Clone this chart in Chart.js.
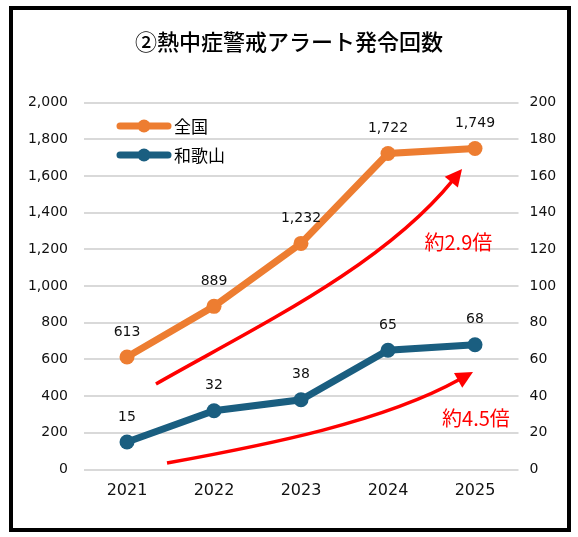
<!DOCTYPE html>
<html lang="ja">
<head>
<meta charset="utf-8">
<title>熱中症警戒アラート発令回数</title>
<script src="https://cdn.jsdelivr.net/npm/chart.js@4.4.1/dist/chart.umd.min.js"></script>
<style>
  html, body { margin: 0; padding: 0; background: #fff; }
  #wrap { position: relative; width: 578px; height: 537px; }
  #frame {
    position: absolute; left: 9px; top: 6px; width: 562px; height: 526px;
    border: 4px solid #000; box-sizing: border-box; pointer-events: none;
  }
  canvas { position: absolute; left: 0; top: 0; }
</style>
</head>
<body>
<div id="wrap">
  <canvas id="alertChart" width="578" height="537"></canvas>
  <div id="frame"></div>
</div>
<script>
// chart data
const years = ["2021", "2022", "2023", "2024", "2025"];
const zenkoku = [613, 889, 1232, 1722, 1749];   // left axis
const wakayama = [15, 32, 38, 65, 68];           // right axis
const seriesNames = ["全国", "和歌山"];
const chartTitle = "②熱中症警戒アラート発令回数";
const leftMax = 2000, leftStep = 200;
const rightMax = 200, rightStep = 20;

// red growth arrows, in (category index, left-axis value)
const arrows = [
  { from: [0.333, 466], c1: [1.483, 777], c2: [2.931, 1104], to: [3.851, 1638], text: "約2.9倍", textAt: [3.809, 1236] },
  { from: [0.46, 35], c1: [1.609, 134], c2: [2.943, 259], to: [3.977, 531], text: "約4.5倍", textAt: [4.011, 281] }
];

const NUM_FONT = "'DejaVu Sans', sans-serif";
const JP_FONT = "'Noto Sans CJK JP', sans-serif";
const ORANGE = "#ED7D31";
const BLUE = "#1A5E80";
const RED = "#FF0000";

const extras = {
  id: "extras",
  afterDatasetsDraw(chart) {
    const ctx = chart.ctx;
    const x = chart.scales.x, y = chart.scales.y;
    ctx.save();

    // title
    ctx.fillStyle = "#000";
    ctx.font = "500 22px " + JP_FONT;
    ctx.textAlign = "center";
    ctx.textBaseline = "middle";
    ctx.fillText(chartTitle, 289, 42);

    // value labels above points
    ctx.font = "14px " + NUM_FONT;
    ctx.fillStyle = "#111";
    chart.data.datasets.forEach((ds, i) => {
      chart.getDatasetMeta(i).data.forEach((pt, j) => {
        ctx.fillText(ds.data[j].toLocaleString("en-US"), pt.x, pt.y - 25);
      });
    });

    // legend inside plot
    chart.data.datasets.forEach((ds, i) => {
      const ly = 126 + i * 29;
      ctx.strokeStyle = ds.borderColor;
      ctx.lineWidth = 7;
      ctx.lineCap = "round";
      ctx.beginPath();
      ctx.moveTo(120, ly);
      ctx.lineTo(168, ly);
      ctx.stroke();
      ctx.fillStyle = ds.borderColor;
      ctx.beginPath();
      ctx.arc(144, ly, 6.5, 0, Math.PI * 2);
      ctx.fill();
      ctx.fillStyle = "#000";
      ctx.font = "17px " + JP_FONT;
      ctx.textAlign = "left";
      ctx.fillText(ds.label, 174, ly + 1);
    });

    // arrows
    const px = p => [x.getPixelForValue(p[0]), y.getPixelForValue(p[1])];
    arrows.forEach(a => {
      const p0 = px(a.from), p1 = px(a.c1), p2 = px(a.c2), p3 = px(a.to);
      const dx = p3[0] - p2[0], dy = p3[1] - p2[1];
      const len = Math.hypot(dx, dy);
      const ux = dx / len, uy = dy / len;
      const head = 17, half = 8.5;
      const bx = p3[0] - ux * head, by = p3[1] - uy * head;
      ctx.strokeStyle = RED;
      ctx.lineWidth = 3.5;
      ctx.lineCap = "butt";
      ctx.beginPath();
      ctx.moveTo(p0[0], p0[1]);
      ctx.bezierCurveTo(p1[0], p1[1], p2[0], p2[1], bx + ux * 2, by + uy * 2);
      ctx.stroke();
      ctx.fillStyle = RED;
      ctx.beginPath();
      ctx.moveTo(p3[0], p3[1]);
      ctx.lineTo(bx - uy * half, by + ux * half);
      ctx.lineTo(bx + uy * half, by - ux * half);
      ctx.closePath();
      ctx.fill();

      const t = px(a.textAt);
      ctx.font = "20px " + JP_FONT;
      ctx.textAlign = "center";
      ctx.fillText(a.text, t[0], t[1]);
    });

    ctx.restore();
  }
};

new Chart(document.getElementById("alertChart"), {
  type: "line",
  data: {
    labels: years,
    datasets: [
      {
        label: seriesNames[0],
        data: zenkoku,
        yAxisID: "y",
        borderColor: ORANGE,
        backgroundColor: ORANGE,
        borderWidth: 7,
        pointRadius: 7.5,
        pointBackgroundColor: ORANGE,
        pointBorderWidth: 0,
        tension: 0
      },
      {
        label: seriesNames[1],
        data: wakayama,
        yAxisID: "y1",
        borderColor: BLUE,
        backgroundColor: BLUE,
        borderWidth: 7,
        pointRadius: 7.5,
        pointBackgroundColor: BLUE,
        pointBorderWidth: 0,
        tension: 0
      }
    ]
  },
  options: {
    responsive: false,
    animation: false,
    layout: { padding: { top: 102.5, left: 0, right: 0, bottom: 0 } },
    plugins: {
      legend: { display: false },
      title: { display: false },
      tooltip: { enabled: false }
    },
    scales: {
      x: {
        offset: true,
        grid: { display: false },
        border: { display: false },
        ticks: { font: { family: NUM_FONT, size: 16 }, color: "#111", padding: 4 },
        afterFit(s) { s.height = 67.5; }
      },
      y: {
        position: "left",
        min: 0, max: leftMax,
        grid: { color: "#D9D9D9", lineWidth: 2, drawTicks: false },
        border: { display: false },
        ticks: {
          stepSize: leftStep,
          padding: 15.5,
          font: { family: NUM_FONT, size: 14 },
          color: "#111",
          callback: v => v.toLocaleString("en-US")
        },
        afterFit(s) { s.width = 83.5; }
      },
      y1: {
        position: "right",
        min: 0, max: rightMax,
        grid: { display: false, drawTicks: false },
        border: { display: false },
        ticks: {
          stepSize: rightStep,
          padding: 11,
          font: { family: NUM_FONT, size: 14 },
          color: "#111"
        },
        afterFit(s) { s.width = 59.5; }
      }
    }
  },
  plugins: [extras]
});
</script>
</body>
</html>
